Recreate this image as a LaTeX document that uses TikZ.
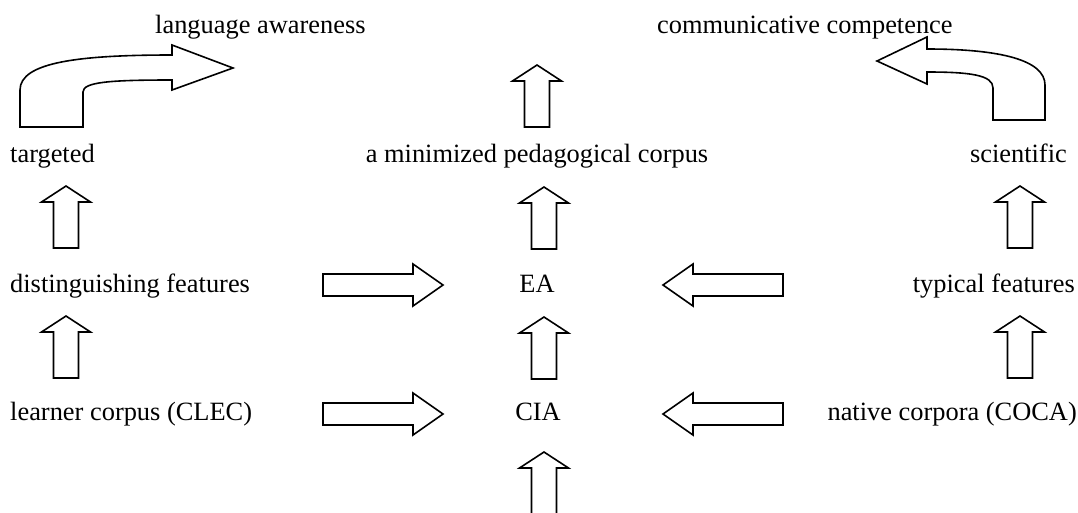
\documentclass[tikz,border=0pt]{standalone}
\usepackage{fontspec}
\setmainfont{Liberation Serif}
\begin{document}
\begin{tikzpicture}[x=1pt,y=-1pt,
  blk/.style={draw=black,line width=1.6pt,line join=miter,fill=white},
  lbl/.style={inner sep=0pt,font=\fontsize{26.4}{30}\selectfont},
  uparrow/.pic={\draw[blk] (-12.5,0) -- (-12.5,-46) -- (-24.5,-46) -- (0,-62) -- (24.5,-46) -- (12.5,-46) -- (12.5,0) -- cycle;},
  harrow/.pic={\draw[blk] (0,-11) -- (90,-11) -- (90,-21) -- (120,0) -- (90,21) -- (90,11) -- (0,11) -- cycle;}]
\useasboundingbox (0,0) rectangle (1078,512);
\clip (0,0) rectangle (1078,512);
% text nodes
\node[lbl,anchor=base west] (la) at (155,33) {language awareness};
\node[lbl,anchor=base west] (cc) at (657,33) {communicative competence};
\node[lbl,anchor=base west] (tg) at (10,162) {targeted};
\node[lbl,anchor=base] (mpc) at (537,162) {a minimized pedagogical corpus};
\node[lbl,anchor=base east] (sc) at (1067,162) {scientific};
\node[lbl,anchor=base west] (df) at (10,292) {distinguishing features};
\node[lbl,anchor=base] (ea) at (537,292) {EA};
\node[lbl,anchor=base east] (tf) at (1075,292) {typical features};
\node[lbl,anchor=base west] (lc) at (10,420) {learner corpus (CLEC)};
\node[lbl,anchor=base] (cia) at (538,420) {CIA};
\node[lbl,anchor=base east] (nc) at (1077,420) {native corpora (COCA)};
% up arrows
\pic at (537,127) {uparrow};
\pic at (544,249) {uparrow};
\pic at (544,379) {uparrow};
\pic at (544,514) {uparrow};
\pic at (66,248) {uparrow};
\pic at (66,378) {uparrow};
\pic at (1020,248) {uparrow};
\pic at (1020,378) {uparrow};
% horizontal arrows
\pic at (323,285) {harrow};
\pic at (323,414) {harrow};
\pic[rotate=180] at (783,285) {harrow};
\pic[rotate=180] at (783,414) {harrow};
% bent arrows
\draw[blk] (20,127) -- (20,90) .. controls (20,62) and (80,55) .. (172,55)
  -- (172,45) -- (233,68) -- (172,90) -- (172,80)
  .. controls (110,80) and (83,82) .. (83,92) -- (83,127) -- cycle;
\draw[blk] (1045,120) -- (1045,85) .. controls (1045,60) and (1000,49) .. (927,49)
  -- (927,37) -- (877,61) -- (927,84) -- (927,72)
  .. controls (970,72) and (993,75) .. (993,88) -- (993,120) -- cycle;
\end{tikzpicture}
\end{document}
